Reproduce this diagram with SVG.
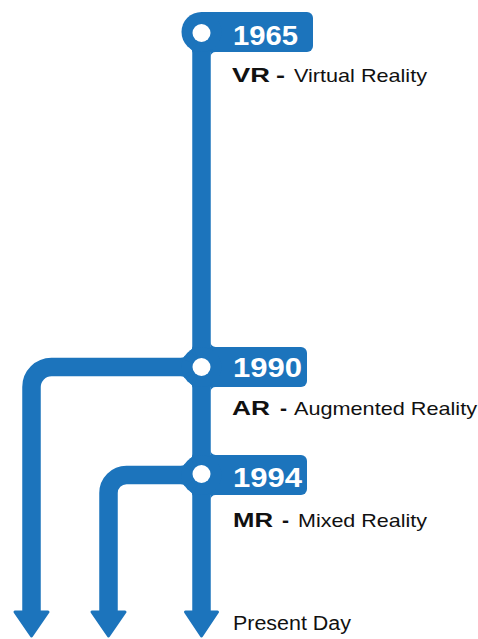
<svg xmlns="http://www.w3.org/2000/svg" xmlns:xlink="http://www.w3.org/1999/xlink" width="478" height="639" viewBox="0 0 478 639">
<style>
.ln{fill:none;stroke:#1c74bc;stroke-width:18.5}
.hd{fill:#1c74bc;stroke:#1c74bc;stroke-width:3;stroke-linejoin:round}
.bx{fill:#1c74bc}
.hole{fill:#fff}
.yr{font-family:"Liberation Sans",Arial,sans-serif;font-weight:bold;font-size:28px;fill:#fff}
.ab{font-family:"Liberation Sans",Arial,sans-serif;font-weight:bold;font-size:21px;fill:#111}
.rg{font-family:"Liberation Sans",Arial,sans-serif;font-size:18.5px;fill:#111}
.pd{font-family:"Liberation Sans",Arial,sans-serif;font-size:20px;fill:#111}
</style>
<defs>
<path id="fc" d="M-9,-20.7 A5,5 0 0 1 -11.2,-16.56 L0,0 Z" fill="#1c74bc"/>
<path id="fr" d="M9,-20 L9,-25 A5,5 0 0 0 14,-20 Z" fill="#1c74bc"/>
</defs>
<rect width="478" height="639" fill="#fff"/>
<g id="connectors">
<path class="ln" d="M201.5,32 V612"/>
<path class="ln" d="M201.5,367 H51.5 A20,20 0 0 0 31.5,387 V612"/>
<path class="ln" d="M201.5,475 H126.5 A18,18 0 0 0 108.5,493 V612"/>
<path class="hd" d="M185.5,612 H217.5 L201.5,636 Z"/>
<path class="hd" d="M15,612 H48 L31.5,636 Z"/>
<path class="hd" d="M92,612 H125 L108.5,636 Z"/>
</g>
<g id="node-1965">
<path class="bx" d="M201.5,12 H307 A6,6 0 0 1 313,18 V46 A6,6 0 0 1 307,52 H201.5 Z"/>
<circle class="bx" cx="201.5" cy="32" r="20"/>
<use xlink:href="#fc" transform="translate(201.5,32) scale(1,-1)"/>
<use xlink:href="#fr" transform="translate(201.5,32) scale(1,-1)"/>
<circle class="hole" cx="201.5" cy="33" r="9"/>
<text class="yr" x="233" y="45" textLength="65" lengthAdjust="spacingAndGlyphs">1965</text>
<text class="ab" x="232" y="82" textLength="38" lengthAdjust="spacingAndGlyphs">VR</text>
<text class="ab" x="276" y="82" textLength="9" lengthAdjust="spacingAndGlyphs">-</text>
<text class="rg" x="294" y="82" textLength="133" lengthAdjust="spacingAndGlyphs">Virtual Reality</text>
</g>
<g id="node-1990">
<path class="bx" d="M201.5,347 H301 A6,6 0 0 1 307,353 V381 A6,6 0 0 1 301,387 H201.5 Z"/>
<circle class="bx" cx="201.5" cy="367" r="20"/>
<use xlink:href="#fc" transform="translate(201.5,367)"/>
<use xlink:href="#fr" transform="translate(201.5,367)"/>
<use xlink:href="#fc" transform="translate(201.5,367) scale(1,-1)"/>
<use xlink:href="#fr" transform="translate(201.5,367) scale(1,-1)"/>
<use xlink:href="#fc" transform="translate(201.5,367) rotate(-90)"/>
<use xlink:href="#fc" transform="translate(201.5,367) scale(1,-1) rotate(-90)"/>
<circle class="hole" cx="201.5" cy="367" r="9"/>
<text class="yr" x="233" y="377" textLength="69" lengthAdjust="spacingAndGlyphs">1990</text>
<text class="ab" x="232" y="415" textLength="38" lengthAdjust="spacingAndGlyphs">AR</text>
<text class="ab" x="280" y="415">-</text>
<text class="rg" x="294" y="415" textLength="183" lengthAdjust="spacingAndGlyphs">Augmented Reality</text>
</g>
<g id="node-1994">
<path class="bx" d="M201.5,455 H301 A6,6 0 0 1 307,461 V489 A6,6 0 0 1 301,495 H201.5 Z"/>
<circle class="bx" cx="201.5" cy="475" r="20"/>
<use xlink:href="#fc" transform="translate(201.5,475)"/>
<use xlink:href="#fr" transform="translate(201.5,475)"/>
<use xlink:href="#fc" transform="translate(201.5,475) scale(1,-1)"/>
<use xlink:href="#fr" transform="translate(201.5,475) scale(1,-1)"/>
<use xlink:href="#fc" transform="translate(201.5,475) rotate(-90)"/>
<use xlink:href="#fc" transform="translate(201.5,475) scale(1,-1) rotate(-90)"/>
<circle class="hole" cx="201.5" cy="474" r="9"/>
<text class="yr" x="233" y="487" textLength="69" lengthAdjust="spacingAndGlyphs">1994</text>
<text class="ab" x="233" y="527" textLength="40" lengthAdjust="spacingAndGlyphs">MR</text>
<text class="ab" x="282" y="527">-</text>
<text class="rg" x="298" y="527" textLength="129" lengthAdjust="spacingAndGlyphs">Mixed Reality</text>
</g>
<g id="node-present">
<text class="pd" x="233" y="630" textLength="118" lengthAdjust="spacingAndGlyphs">Present Day</text>
</g>
</svg>
